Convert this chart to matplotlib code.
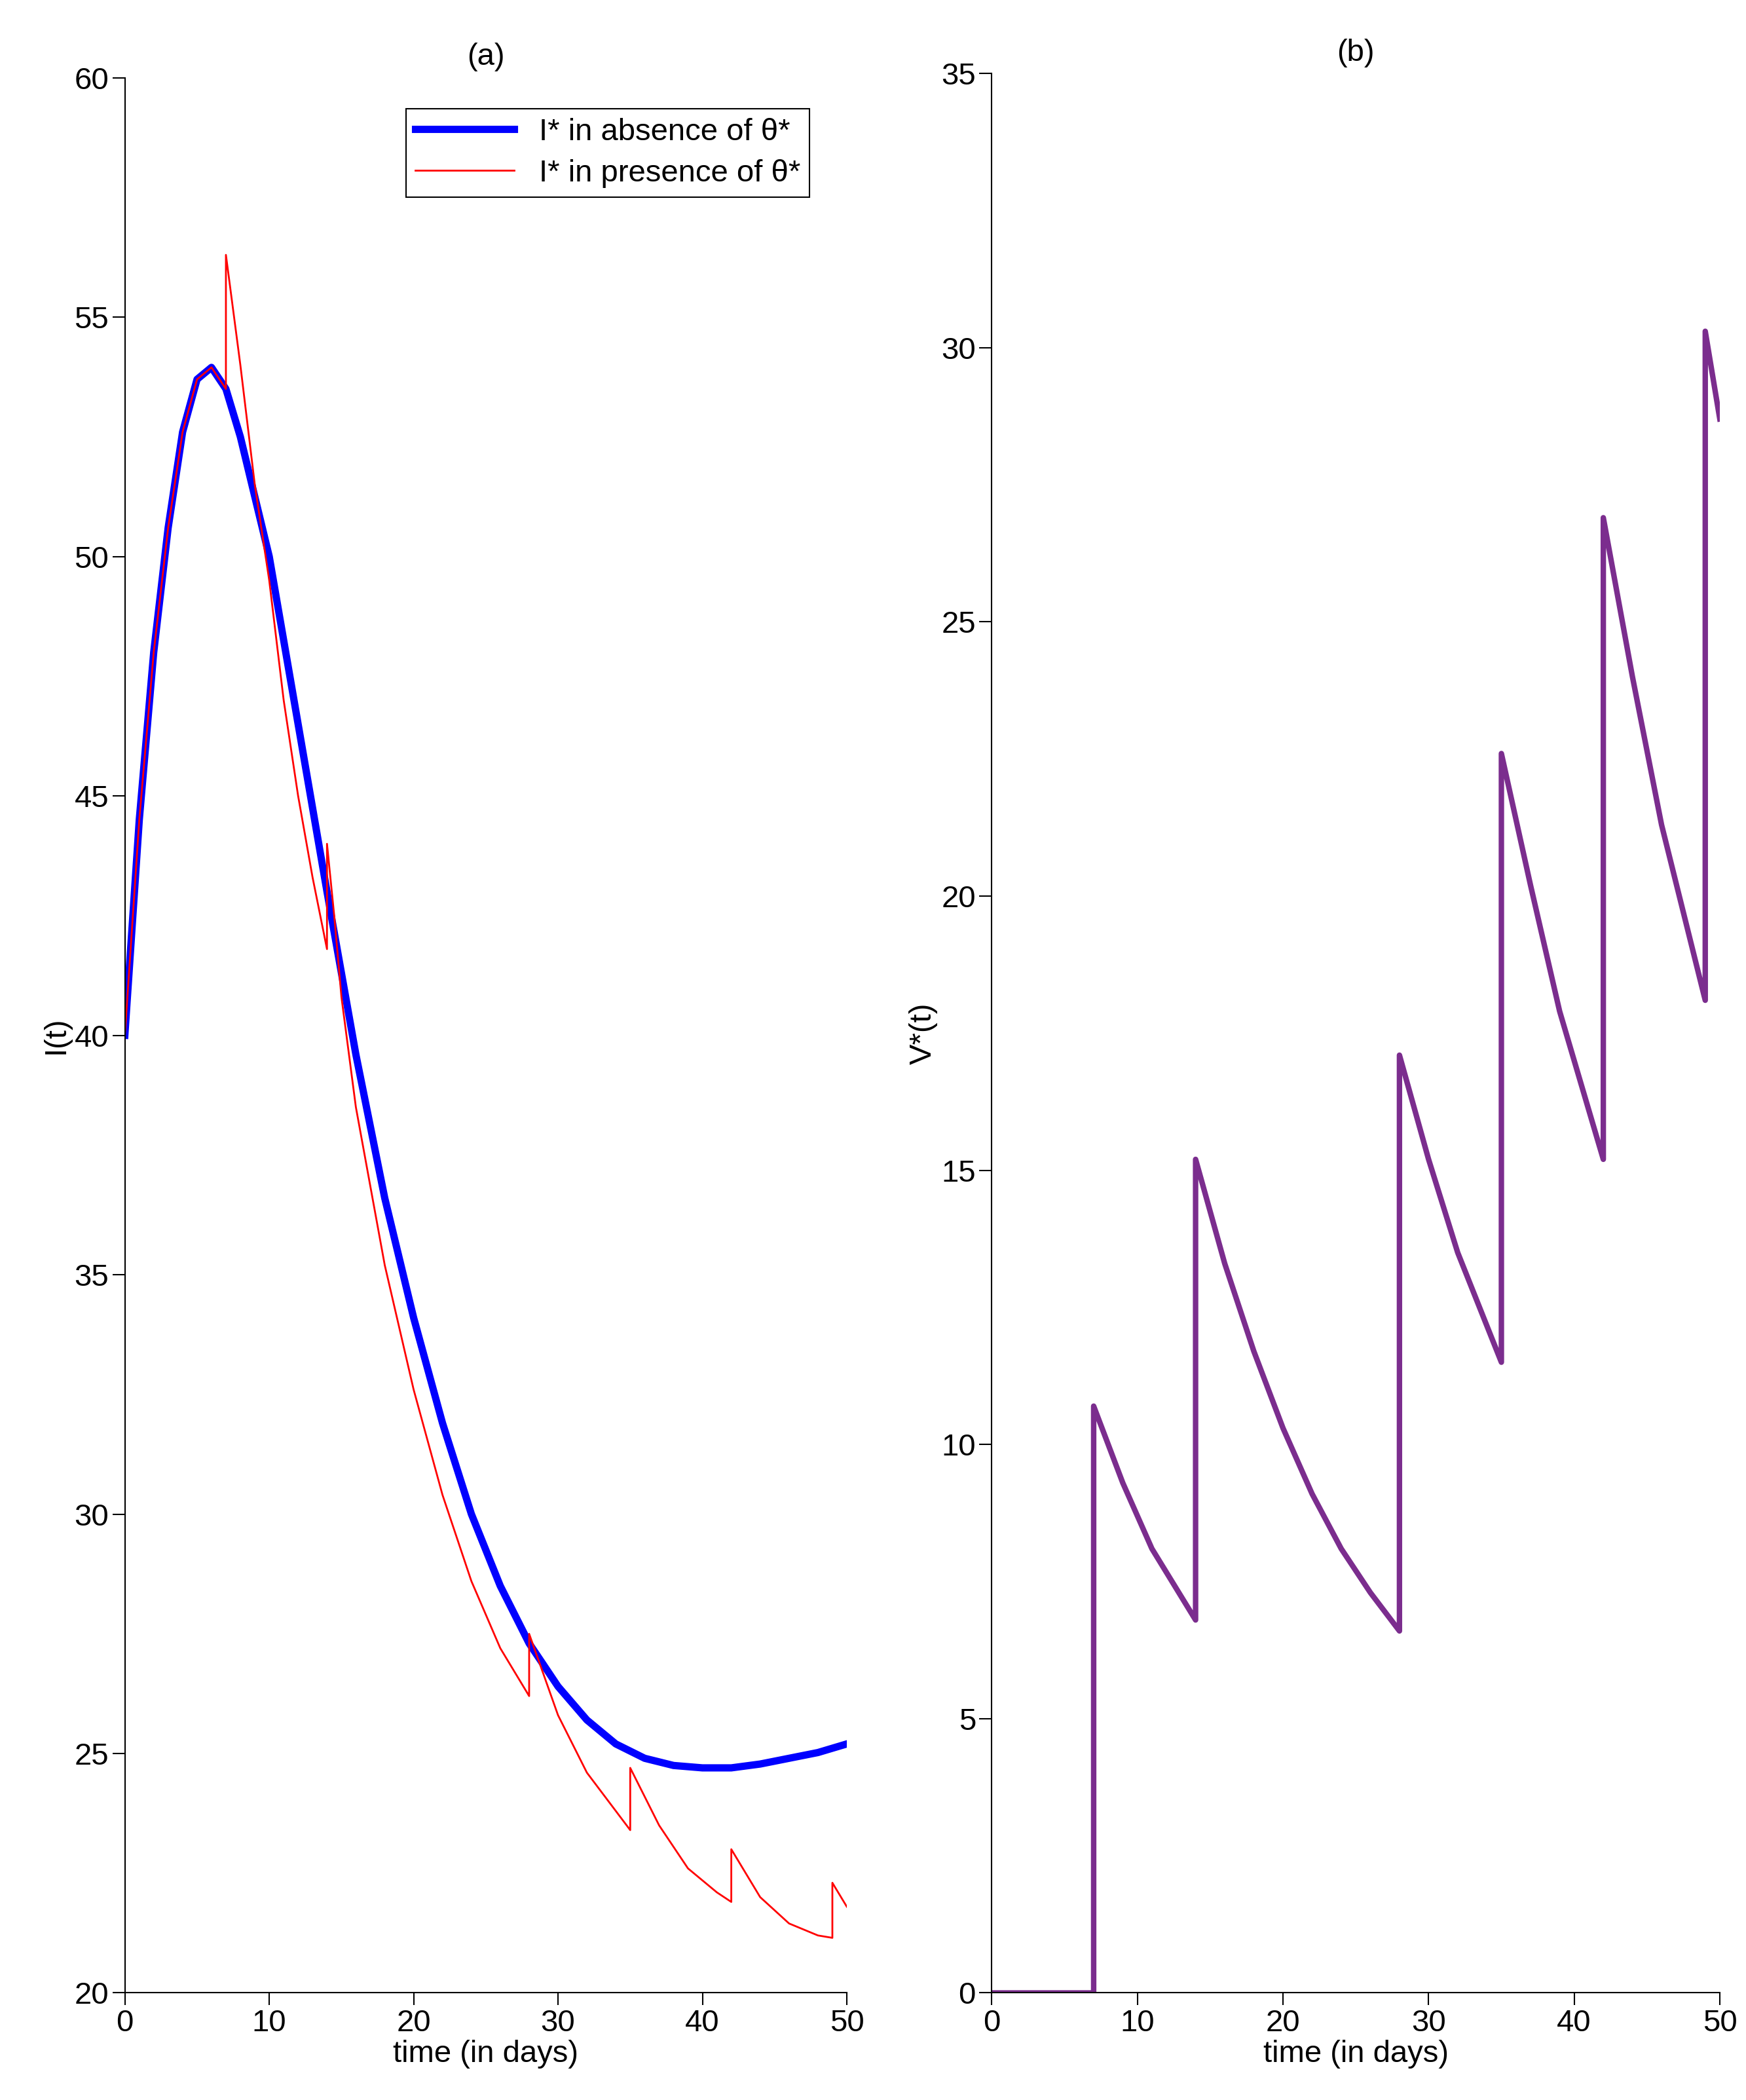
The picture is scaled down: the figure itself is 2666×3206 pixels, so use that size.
import matplotlib
matplotlib.use("Agg")
import matplotlib.pyplot as plt

plt.rcParams['font.family'] = ['Liberation Sans', 'DejaVu Sans']

t_blue = [0,1,2,3,4,5,6,7,8,10,12,14,16,18,20,22,24,26,28,30,32,34,36,38,40,42,44,46,48,50]
I_blue = [40,44.5,48,50.6,52.6,53.7,53.95,53.5,52.5,50,46.5,43,39.6,36.6,34.1,31.9,30.0,28.5,27.3,26.4,25.7,25.2,24.9,24.75,24.7,24.7,24.78,24.9,25.02,25.2]

t_red = [0,1,2,3,4,5,6,7, 7,8,9,10,11,12,13,14, 14,14.5,15,16,18,20,22,24,26,28,
         28,30,32,34,35, 35,37,39,41,42, 42,44,46,48,49, 49,50]
I_red = [40,44.5,48,50.6,52.6,53.7,53.95,53.5, 56.3,54,51.5,49.5,47,45,43.3,41.8,
         44.0,42.5,40.8,38.5,35.2,32.6,30.4,28.6,27.2,26.2,
         27.5,25.8,24.6,23.8,23.4, 24.7,23.5,22.6,22.1,21.9,
         23.0,22.0,21.45,21.2,21.15, 22.3,21.8]

t_v = [0,7, 7,9,11,14, 14,16,18,20,22,24,26,28, 28,30,32,35, 35,37,39,42, 42,44,46,49, 49,50]
V = [0,0, 10.7,9.3,8.1,6.8, 15.2,13.3,11.7,10.3,9.1,8.1,7.3,6.6, 17.1,15.2,13.5,11.5,
     22.6,20.2,17.9,15.2, 26.9,24.0,21.3,18.1, 30.3,28.7]

fig = plt.figure(figsize=(26.66, 32.06), dpi=100)
fs = 34
ax1 = fig.add_axes([0.0715, 0.051, 0.4135, 0.912])
ax2 = fig.add_axes([0.568, 0.051, 0.417, 0.914])

ax1.plot(t_blue, I_blue, color='#0000ff', lw=8, label='I* in absence of θ*')
ax1.plot(t_red, I_red, color='#ff0000', lw=2, label='I* in presence of θ*')
ax1.set_xlim(0, 50); ax1.set_ylim(20, 60)
ax1.set_xticks(range(0, 51, 10)); ax1.set_yticks(range(20, 61, 5))
ax1.set_xlabel('time (in days)', fontsize=fs, labelpad=2)
ax1.set_ylabel('I(t)', fontsize=fs)
ax1.set_title('(a)', fontsize=fs, pad=14)
leg = ax1.legend(loc='upper right', bbox_to_anchor=(0.97, 0.992), fontsize=fs, fancybox=False,
                 edgecolor='black', framealpha=1, handlelength=3.2, borderpad=0.3, labelspacing=0.4)
leg.get_frame().set_linewidth(1.5)

ax2.plot(t_v, V, color='#7b2d8e', lw=6)
ax2.set_xlim(0, 50); ax2.set_ylim(0, 35)
ax2.set_xticks(range(0, 51, 10)); ax2.set_yticks(range(0, 36, 5))
ax2.set_xlabel('time (in days)', fontsize=fs, labelpad=2)
ax2.set_ylabel('V*(t)', fontsize=fs)
ax2.set_title('(b)', fontsize=fs, pad=14)

for ax in (ax1, ax2):
    ax.spines['top'].set_visible(False)
    ax.spines['right'].set_visible(False)
    for s in ('left', 'bottom'):
        ax.spines[s].set_linewidth(1.5)
    ax.tick_params(direction='out', length=14, width=1.5, labelsize=fs)

fig.savefig('out.png', dpi=100)
